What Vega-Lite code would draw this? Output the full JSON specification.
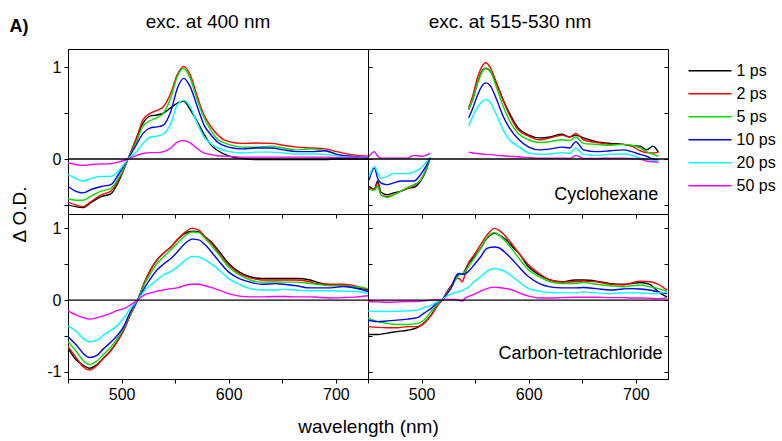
{
"$schema":"https://vega.github.io/schema/vega-lite/v6.json",
"background":"white",
"padding":{"left":9,"top":12,"right":5,"bottom":0},
"title":{"text":"A)","anchor":"start","fontSize":18,"fontWeight":"bold","dy":27,"dx":0},
"columns":2,
"spacing":0,
"bounds":"flush",
"datasets":{
"TL":[
{"w":450,"s":1,"1 ps":-0.50,"2 ps":-0.47,"5 ps":-0.43,"10 ps":-0.30,"20 ps":-0.17,"50 ps":-0.04},
{"w":457,"s":1,"1 ps":-0.52,"2 ps":-0.50,"5 ps":-0.45,"10 ps":-0.35,"20 ps":-0.21,"50 ps":-0.06},
{"w":464,"s":1,"1 ps":-0.53,"2 ps":-0.52,"5 ps":-0.45,"10 ps":-0.37,"20 ps":-0.24,"50 ps":-0.07},
{"w":472,"s":1,"1 ps":-0.47,"2 ps":-0.46,"5 ps":-0.40,"10 ps":-0.33,"20 ps":-0.21,"50 ps":-0.06},
{"w":481,"s":1,"1 ps":-0.41,"2 ps":-0.39,"5 ps":-0.35,"10 ps":-0.30,"20 ps":-0.19,"50 ps":-0.055},
{"w":490,"s":1,"1 ps":-0.38,"2 ps":-0.35,"5 ps":-0.32,"10 ps":-0.28,"20 ps":-0.19,"50 ps":-0.05},
{"w":498,"s":1,"1 ps":-0.225,"2 ps":-0.21,"5 ps":-0.19,"10 ps":-0.15,"20 ps":-0.12,"50 ps":-0.03},
{"w":506,"s":1,"1 ps":0,"2 ps":0,"5 ps":0,"10 ps":0,"20 ps":0,"50 ps":0},
{"w":514,"s":1,"1 ps":0.23,"2 ps":0.23,"5 ps":0.19,"10 ps":0.16,"20 ps":0.08,"50 ps":0.04},
{"w":520,"s":1,"1 ps":0.39,"2 ps":0.43,"5 ps":0.36,"10 ps":0.28,"20 ps":0.17,"50 ps":0.06},
{"w":527,"s":1,"1 ps":0.47,"2 ps":0.50,"5 ps":0.42,"10 ps":0.34,"20 ps":0.24,"50 ps":0.07},
{"w":533,"s":1,"1 ps":0.48,"2 ps":0.53,"5 ps":0.45,"10 ps":0.35,"20 ps":0.25,"50 ps":0.07},
{"w":539,"s":1,"1 ps":0.50,"2 ps":0.57,"5 ps":0.50,"10 ps":0.37,"20 ps":0.27,"50 ps":0.08},
{"w":546,"s":1,"1 ps":0.56,"2 ps":0.72,"5 ps":0.67,"10 ps":0.52,"20 ps":0.39,"50 ps":0.12},
{"w":552,"s":1,"1 ps":0.61,"2 ps":0.92,"5 ps":0.90,"10 ps":0.77,"20 ps":0.59,"50 ps":0.185},
{"w":558,"s":1,"1 ps":0.63,"2 ps":1.01,"5 ps":0.99,"10 ps":0.88,"20 ps":0.64,"50 ps":0.20},
{"w":564,"s":1,"1 ps":0.54,"2 ps":0.92,"5 ps":0.88,"10 ps":0.79,"20 ps":0.57,"50 ps":0.175},
{"w":571,"s":1,"1 ps":0.40,"2 ps":0.67,"5 ps":0.63,"10 ps":0.56,"20 ps":0.38,"50 ps":0.11},
{"w":577,"s":1,"1 ps":0.27,"2 ps":0.48,"5 ps":0.45,"10 ps":0.37,"20 ps":0.24,"50 ps":0.065},
{"w":583,"s":1,"1 ps":0.16,"2 ps":0.36,"5 ps":0.32,"10 ps":0.27,"20 ps":0.17,"50 ps":0.05},
{"w":590,"s":1,"1 ps":0.09,"2 ps":0.26,"5 ps":0.21,"10 ps":0.18,"20 ps":0.12,"50 ps":0.035},
{"w":600,"s":1,"1 ps":0.035,"2 ps":0.19,"5 ps":0.16,"10 ps":0.13,"20 ps":0.08,"50 ps":0.03},
{"w":613,"s":1,"1 ps":0.005,"2 ps":0.17,"5 ps":0.13,"10 ps":0.11,"20 ps":0.065,"50 ps":0.02},
{"w":625,"s":1,"1 ps":-0.005,"2 ps":0.175,"5 ps":0.13,"10 ps":0.12,"20 ps":0.075,"50 ps":0.02},
{"w":640,"s":1,"1 ps":-0.005,"2 ps":0.17,"5 ps":0.14,"10 ps":0.12,"20 ps":0.075,"50 ps":0.02},
{"w":651,"s":1,"1 ps":-0.005,"2 ps":0.15,"5 ps":0.12,"10 ps":0.10,"20 ps":0.065,"50 ps":0.02},
{"w":663,"s":1,"1 ps":-0.005,"2 ps":0.13,"5 ps":0.10,"10 ps":0.08,"20 ps":0.055,"50 ps":0.02},
{"w":678,"s":1,"1 ps":-0.005,"2 ps":0.12,"5 ps":0.11,"10 ps":0.08,"20 ps":0.055,"50 ps":0.02},
{"w":690,"s":1,"1 ps":-0.005,"2 ps":0.11,"5 ps":0.09,"10 ps":0.09,"20 ps":0.05,"50 ps":0.02},
{"w":701,"s":1,"1 ps":0,"2 ps":0.08,"5 ps":0.05,"10 ps":0.05,"20 ps":0.03,"50 ps":0.015},
{"w":713,"s":1,"1 ps":0,"2 ps":0.05,"5 ps":0.03,"10 ps":0.03,"20 ps":0.02,"50 ps":0.015},
{"w":730,"s":1,"1 ps":0,"2 ps":0.03,"5 ps":0.02,"10 ps":0.02,"20 ps":0.02,"50 ps":0.015}
],
"TR":[
{"w":451,"s":1,"1 ps":-0.30,"2 ps":-0.32,"5 ps":-0.33,"10 ps":-0.23,"20 ps":-0.19,"50 ps":0.03},
{"w":456,"s":1,"1 ps":-0.33,"2 ps":-0.33,"5 ps":-0.34,"10 ps":-0.10,"20 ps":-0.08,"50 ps":0.08},
{"w":459,"s":1,"1 ps":-0.24,"2 ps":-0.26,"5 ps":-0.30,"10 ps":-0.21,"20 ps":-0.15,"50 ps":0.03},
{"w":462,"s":1,"1 ps":-0.36,"2 ps":-0.39,"5 ps":-0.39,"10 ps":-0.26,"20 ps":-0.21,"50 ps":0.01},
{"w":468,"s":1,"1 ps":-0.39,"2 ps":-0.41,"5 ps":-0.42,"10 ps":-0.28,"20 ps":-0.19,"50 ps":0.01},
{"w":474,"s":1,"1 ps":-0.37,"2 ps":-0.39,"5 ps":-0.39,"10 ps":-0.26,"20 ps":-0.16,"50 ps":0.01},
{"w":481,"s":1,"1 ps":-0.35,"2 ps":-0.35,"5 ps":-0.35,"10 ps":-0.24,"20 ps":-0.16,"50 ps":0.01},
{"w":487,"s":1,"1 ps":-0.32,"2 ps":-0.32,"5 ps":-0.31,"10 ps":-0.24,"20 ps":-0.16,"50 ps":0.01},
{"w":493,"s":1,"1 ps":-0.31,"2 ps":-0.29,"5 ps":-0.28,"10 ps":-0.24,"20 ps":-0.14,"50 ps":0.04},
{"w":499,"s":1,"1 ps":-0.24,"2 ps":-0.23,"5 ps":-0.23,"10 ps":-0.17,"20 ps":-0.10,"50 ps":0.03},
{"w":504,"s":1,"1 ps":-0.13,"2 ps":-0.12,"5 ps":-0.12,"10 ps":-0.08,"20 ps":-0.04,"50 ps":0.04},
{"w":508,"s":1,"1 ps":0.01,"2 ps":0.01,"5 ps":0.01,"10 ps":0.02,"20 ps":0.02,"50 ps":0.065},
{"w":544,"s":2,"1 ps":0.54,"2 ps":0.56,"5 ps":0.54,"10 ps":0.45,"20 ps":0.36,"50 ps":0.075},
{"w":548,"s":2,"1 ps":0.66,"2 ps":0.70,"5 ps":0.66,"10 ps":0.56,"20 ps":0.47,"50 ps":0.065},
{"w":552,"s":2,"1 ps":0.82,"2 ps":0.88,"5 ps":0.82,"10 ps":0.69,"20 ps":0.56,"50 ps":0.06},
{"w":556,"s":2,"1 ps":0.95,"2 ps":1.00,"5 ps":0.94,"10 ps":0.79,"20 ps":0.62,"50 ps":0.055},
{"w":560,"s":2,"1 ps":0.99,"2 ps":1.05,"5 ps":0.99,"10 ps":0.83,"20 ps":0.65,"50 ps":0.05},
{"w":564,"s":2,"1 ps":0.96,"2 ps":1.00,"5 ps":0.96,"10 ps":0.80,"20 ps":0.62,"50 ps":0.05},
{"w":570,"s":2,"1 ps":0.82,"2 ps":0.83,"5 ps":0.78,"10 ps":0.65,"20 ps":0.48,"50 ps":0.04},
{"w":576,"s":2,"1 ps":0.65,"2 ps":0.64,"5 ps":0.58,"10 ps":0.47,"20 ps":0.32,"50 ps":0.035},
{"w":582,"s":2,"1 ps":0.50,"2 ps":0.48,"5 ps":0.42,"10 ps":0.34,"20 ps":0.21,"50 ps":0.03},
{"w":590,"s":2,"1 ps":0.34,"2 ps":0.32,"5 ps":0.28,"10 ps":0.22,"20 ps":0.14,"50 ps":0.025},
{"w":600,"s":2,"1 ps":0.26,"2 ps":0.25,"5 ps":0.21,"10 ps":0.13,"20 ps":0.065,"50 ps":0.015},
{"w":610,"s":2,"1 ps":0.23,"2 ps":0.21,"5 ps":0.18,"10 ps":0.10,"20 ps":0.05,"50 ps":0.01},
{"w":620,"s":2,"1 ps":0.24,"2 ps":0.23,"5 ps":0.19,"10 ps":0.11,"20 ps":0.055,"50 ps":0.01},
{"w":631,"s":2,"1 ps":0.27,"2 ps":0.26,"5 ps":0.21,"10 ps":0.13,"20 ps":0.07,"50 ps":0.01},
{"w":638,"s":2,"1 ps":0.24,"2 ps":0.24,"5 ps":0.20,"10 ps":0.12,"20 ps":0.06,"50 ps":0.005},
{"w":644,"s":2,"1 ps":0.26,"2 ps":0.28,"5 ps":0.24,"10 ps":0.19,"20 ps":0.12,"50 ps":0.04},
{"w":651,"s":2,"1 ps":0.23,"2 ps":0.21,"5 ps":0.17,"10 ps":0.10,"20 ps":0.05,"50 ps":0.005},
{"w":663,"s":2,"1 ps":0.19,"2 ps":0.18,"5 ps":0.16,"10 ps":0.08,"20 ps":0.04,"50 ps":0.005},
{"w":676,"s":2,"1 ps":0.17,"2 ps":0.16,"5 ps":0.15,"10 ps":0.09,"20 ps":0.05,"50 ps":0.01},
{"w":688,"s":2,"1 ps":0.16,"2 ps":0.16,"5 ps":0.16,"10 ps":0.10,"20 ps":0.055,"50 ps":0.01},
{"w":696,"s":2,"1 ps":0.145,"2 ps":0.14,"5 ps":0.15,"10 ps":0.08,"20 ps":0.04,"50 ps":0.005},
{"w":704,"s":2,"1 ps":0.14,"2 ps":0.09,"5 ps":0.12,"10 ps":0.05,"20 ps":0.01,"50 ps":0},
{"w":710,"s":2,"1 ps":0.10,"2 ps":0.07,"5 ps":0.08,"10 ps":0.03,"20 ps":-0.005,"50 ps":-0.025},
{"w":716,"s":2,"1 ps":0.14,"2 ps":0.065,"5 ps":0.05,"10 ps":0.0,"20 ps":-0.015,"50 ps":-0.03},
{"w":721,"s":2,"1 ps":0.075,"2 ps":0.075,"5 ps":0.03,"10 ps":-0.01,"20 ps":-0.02,"50 ps":-0.035}
],
"BL":[
{"w":450,"s":1,"1 ps":-0.67,"2 ps":-0.65,"5 ps":-0.58,"10 ps":-0.51,"20 ps":-0.36,"50 ps":-0.15},
{"w":458,"s":1,"1 ps":-0.84,"2 ps":-0.81,"5 ps":-0.72,"10 ps":-0.63,"20 ps":-0.44,"50 ps":-0.21},
{"w":464,"s":1,"1 ps":-0.905,"2 ps":-0.93,"5 ps":-0.84,"10 ps":-0.74,"20 ps":-0.53,"50 ps":-0.245},
{"w":470,"s":1,"1 ps":-0.95,"2 ps":-0.975,"5 ps":-0.90,"10 ps":-0.80,"20 ps":-0.58,"50 ps":-0.265},
{"w":477,"s":1,"1 ps":-0.90,"2 ps":-0.91,"5 ps":-0.85,"10 ps":-0.77,"20 ps":-0.56,"50 ps":-0.245},
{"w":483,"s":1,"1 ps":-0.81,"2 ps":-0.81,"5 ps":-0.76,"10 ps":-0.68,"20 ps":-0.49,"50 ps":-0.22},
{"w":489,"s":1,"1 ps":-0.72,"2 ps":-0.72,"5 ps":-0.67,"10 ps":-0.60,"20 ps":-0.43,"50 ps":-0.19},
{"w":495,"s":1,"1 ps":-0.60,"2 ps":-0.60,"5 ps":-0.56,"10 ps":-0.51,"20 ps":-0.37,"50 ps":-0.15},
{"w":502,"s":1,"1 ps":-0.42,"2 ps":-0.42,"5 ps":-0.39,"10 ps":-0.37,"20 ps":-0.25,"50 ps":-0.12},
{"w":508,"s":1,"1 ps":-0.21,"2 ps":-0.21,"5 ps":-0.19,"10 ps":-0.17,"20 ps":-0.12,"50 ps":-0.07},
{"w":515,"s":1,"1 ps":0,"2 ps":0,"5 ps":0,"10 ps":0,"20 ps":0,"50 ps":0},
{"w":521,"s":1,"1 ps":0.23,"2 ps":0.23,"5 ps":0.21,"10 ps":0.16,"20 ps":0.125,"50 ps":0.07},
{"w":527,"s":1,"1 ps":0.42,"2 ps":0.42,"5 ps":0.37,"10 ps":0.30,"20 ps":0.21,"50 ps":0.10},
{"w":533,"s":1,"1 ps":0.56,"2 ps":0.56,"5 ps":0.51,"10 ps":0.42,"20 ps":0.28,"50 ps":0.125},
{"w":539,"s":1,"1 ps":0.65,"2 ps":0.65,"5 ps":0.60,"10 ps":0.50,"20 ps":0.35,"50 ps":0.14},
{"w":546,"s":1,"1 ps":0.74,"2 ps":0.74,"5 ps":0.70,"10 ps":0.58,"20 ps":0.40,"50 ps":0.16},
{"w":552,"s":1,"1 ps":0.84,"2 ps":0.84,"5 ps":0.79,"10 ps":0.67,"20 ps":0.46,"50 ps":0.17},
{"w":558,"s":1,"1 ps":0.92,"2 ps":0.93,"5 ps":0.88,"10 ps":0.77,"20 ps":0.54,"50 ps":0.20},
{"w":566,"s":1,"1 ps":0.96,"2 ps":1.00,"5 ps":0.95,"10 ps":0.85,"20 ps":0.61,"50 ps":0.22},
{"w":572,"s":1,"1 ps":0.95,"2 ps":0.975,"5 ps":0.94,"10 ps":0.84,"20 ps":0.60,"50 ps":0.22},
{"w":578,"s":1,"1 ps":0.88,"2 ps":0.88,"5 ps":0.86,"10 ps":0.77,"20 ps":0.56,"50 ps":0.20},
{"w":585,"s":1,"1 ps":0.79,"2 ps":0.77,"5 ps":0.74,"10 ps":0.65,"20 ps":0.49,"50 ps":0.17},
{"w":591,"s":1,"1 ps":0.68,"2 ps":0.65,"5 ps":0.63,"10 ps":0.54,"20 ps":0.42,"50 ps":0.14},
{"w":600,"s":1,"1 ps":0.51,"2 ps":0.49,"5 ps":0.46,"10 ps":0.39,"20 ps":0.30,"50 ps":0.09},
{"w":610,"s":1,"1 ps":0.39,"2 ps":0.37,"5 ps":0.35,"10 ps":0.30,"20 ps":0.22,"50 ps":0.055},
{"w":620,"s":1,"1 ps":0.325,"2 ps":0.31,"5 ps":0.28,"10 ps":0.25,"20 ps":0.16,"50 ps":0.045},
{"w":631,"s":1,"1 ps":0.30,"2 ps":0.28,"5 ps":0.25,"10 ps":0.22,"20 ps":0.14,"50 ps":0.045},
{"w":643,"s":1,"1 ps":0.30,"2 ps":0.28,"5 ps":0.255,"10 ps":0.23,"20 ps":0.14,"50 ps":0.05},
{"w":651,"s":1,"1 ps":0.30,"2 ps":0.28,"5 ps":0.25,"10 ps":0.22,"20 ps":0.15,"50 ps":0.05},
{"w":663,"s":1,"1 ps":0.30,"2 ps":0.28,"5 ps":0.25,"10 ps":0.20,"20 ps":0.14,"50 ps":0.045},
{"w":676,"s":1,"1 ps":0.28,"2 ps":0.255,"5 ps":0.23,"10 ps":0.17,"20 ps":0.13,"50 ps":0.045},
{"w":682,"s":1,"1 ps":0.25,"2 ps":0.23,"5 ps":0.22,"10 ps":0.17,"20 ps":0.13,"50 ps":0.04},
{"w":695,"s":1,"1 ps":0.21,"2 ps":0.22,"5 ps":0.20,"10 ps":0.17,"20 ps":0.13,"50 ps":0.03},
{"w":707,"s":1,"1 ps":0.20,"2 ps":0.22,"5 ps":0.20,"10 ps":0.19,"20 ps":0.125,"50 ps":0.035},
{"w":720,"s":1,"1 ps":0.17,"2 ps":0.19,"5 ps":0.18,"10 ps":0.16,"20 ps":0.12,"50 ps":0.045},
{"w":730,"s":1,"1 ps":0.14,"2 ps":0.15,"5 ps":0.16,"10 ps":0.12,"20 ps":0.09,"50 ps":0.06}
],
"BR":[
{"w":450,"s":1,"1 ps":-0.48,"2 ps":-0.37,"5 ps":-0.25,"10 ps":-0.28,"20 ps":-0.15,"50 ps":-0.02},
{"w":459,"s":1,"1 ps":-0.48,"2 ps":-0.38,"5 ps":-0.30,"10 ps":-0.30,"20 ps":-0.16,"50 ps":-0.025},
{"w":468,"s":1,"1 ps":-0.46,"2 ps":-0.385,"5 ps":-0.325,"10 ps":-0.29,"20 ps":-0.16,"50 ps":-0.03},
{"w":477,"s":1,"1 ps":-0.44,"2 ps":-0.385,"5 ps":-0.34,"10 ps":-0.28,"20 ps":-0.155,"50 ps":-0.025},
{"w":487,"s":1,"1 ps":-0.42,"2 ps":-0.37,"5 ps":-0.34,"10 ps":-0.265,"20 ps":-0.15,"50 ps":-0.02},
{"w":496,"s":1,"1 ps":-0.385,"2 ps":-0.37,"5 ps":-0.325,"10 ps":-0.245,"20 ps":-0.14,"50 ps":-0.02},
{"w":502,"s":1,"1 ps":-0.325,"2 ps":-0.325,"5 ps":-0.28,"10 ps":-0.185,"20 ps":-0.11,"50 ps":-0.01},
{"w":509,"s":1,"1 ps":-0.21,"2 ps":-0.21,"5 ps":-0.16,"10 ps":-0.115,"20 ps":-0.07,"50 ps":0},
{"w":515,"s":1,"1 ps":-0.07,"2 ps":-0.07,"5 ps":-0.05,"10 ps":-0.03,"20 ps":-0.02,"50 ps":0.005},
{"w":520,"s":1,"1 ps":0.015,"2 ps":0.015,"5 ps":0.015,"10 ps":0.015,"20 ps":0.015,"50 ps":0.01},
{"w":524,"s":1,"1 ps":0.12,"2 ps":0.12,"5 ps":0.10,"10 ps":0.09,"20 ps":0.06,"50 ps":0.01},
{"w":529,"s":1,"1 ps":0.23,"2 ps":0.23,"5 ps":0.21,"10 ps":0.21,"20 ps":0.09,"50 ps":0.01},
{"w":532,"s":1,"1 ps":0.325,"2 ps":0.30,"5 ps":0.29,"10 ps":0.33,"20 ps":0.11,"50 ps":0.01},
{"w":535,"s":1,"1 ps":0.37,"2 ps":0.30,"5 ps":0.35,"10 ps":0.37,"20 ps":0.12,"50 ps":-0.005},
{"w":538,"s":1,"1 ps":0.36,"2 ps":0.255,"5 ps":0.37,"10 ps":0.36,"20 ps":0.13,"50 ps":-0.015},
{"w":540,"s":1,"1 ps":0.40,"2 ps":0.33,"5 ps":0.39,"10 ps":0.36,"20 ps":0.15,"50 ps":0.02},
{"w":543,"s":1,"1 ps":0.49,"2 ps":0.49,"5 ps":0.45,"10 ps":0.39,"20 ps":0.17,"50 ps":0.045},
{"w":549,"s":1,"1 ps":0.60,"2 ps":0.63,"5 ps":0.58,"10 ps":0.49,"20 ps":0.255,"50 ps":0.08},
{"w":555,"s":1,"1 ps":0.72,"2 ps":0.77,"5 ps":0.72,"10 ps":0.60,"20 ps":0.325,"50 ps":0.125},
{"w":561,"s":1,"1 ps":0.86,"2 ps":0.905,"5 ps":0.87,"10 ps":0.72,"20 ps":0.40,"50 ps":0.16},
{"w":568,"s":1,"1 ps":0.93,"2 ps":1.00,"5 ps":0.94,"10 ps":0.74,"20 ps":0.44,"50 ps":0.18},
{"w":572,"s":1,"1 ps":0.91,"2 ps":0.975,"5 ps":0.91,"10 ps":0.73,"20 ps":0.43,"50 ps":0.175},
{"w":579,"s":1,"1 ps":0.84,"2 ps":0.88,"5 ps":0.81,"10 ps":0.65,"20 ps":0.39,"50 ps":0.16},
{"w":585,"s":1,"1 ps":0.74,"2 ps":0.77,"5 ps":0.70,"10 ps":0.56,"20 ps":0.325,"50 ps":0.14},
{"w":591,"s":1,"1 ps":0.65,"2 ps":0.65,"5 ps":0.58,"10 ps":0.46,"20 ps":0.255,"50 ps":0.10},
{"w":600,"s":1,"1 ps":0.46,"2 ps":0.49,"5 ps":0.42,"10 ps":0.325,"20 ps":0.16,"50 ps":0.055},
{"w":610,"s":1,"1 ps":0.35,"2 ps":0.37,"5 ps":0.325,"10 ps":0.23,"20 ps":0.125,"50 ps":0.03},
{"w":620,"s":1,"1 ps":0.28,"2 ps":0.28,"5 ps":0.255,"10 ps":0.185,"20 ps":0.105,"50 ps":0.03},
{"w":631,"s":1,"1 ps":0.255,"2 ps":0.25,"5 ps":0.23,"10 ps":0.17,"20 ps":0.10,"50 ps":0.035},
{"w":643,"s":1,"1 ps":0.28,"2 ps":0.255,"5 ps":0.23,"10 ps":0.17,"20 ps":0.10,"50 ps":0.04},
{"w":651,"s":1,"1 ps":0.28,"2 ps":0.265,"5 ps":0.245,"10 ps":0.175,"20 ps":0.115,"50 ps":0.04},
{"w":663,"s":1,"1 ps":0.265,"2 ps":0.255,"5 ps":0.22,"10 ps":0.16,"20 ps":0.10,"50 ps":0.04},
{"w":676,"s":1,"1 ps":0.23,"2 ps":0.22,"5 ps":0.20,"10 ps":0.14,"20 ps":0.09,"50 ps":0.035},
{"w":688,"s":1,"1 ps":0.22,"2 ps":0.21,"5 ps":0.185,"10 ps":0.155,"20 ps":0.10,"50 ps":0.035},
{"w":696,"s":1,"1 ps":0.23,"2 ps":0.24,"5 ps":0.20,"10 ps":0.16,"20 ps":0.10,"50 ps":0.03},
{"w":704,"s":1,"1 ps":0.245,"2 ps":0.265,"5 ps":0.21,"10 ps":0.155,"20 ps":0.10,"50 ps":0.03},
{"w":713,"s":1,"1 ps":0.22,"2 ps":0.255,"5 ps":0.185,"10 ps":0.14,"20 ps":0.09,"50 ps":0.025},
{"w":721,"s":1,"1 ps":0.115,"2 ps":0.22,"5 ps":0.16,"10 ps":0.115,"20 ps":0.10,"50 ps":0.02},
{"w":729,"s":1,"1 ps":0.045,"2 ps":0.14,"5 ps":0.125,"10 ps":0.09,"20 ps":0.115,"50 ps":0.03}
]
},
"concat":[
{
"width":300,"height":165,
"title":{"text":"exc. at 400 nm","frame":"group","dx":-10,"offset":17},
"data":{"name":"TL"},
"layer":[
{"transform":[{"fold":["1 ps","2 ps","5 ps","10 ps","20 ps","50 ps"],"as":["t","v"]}],
"mark":{"type":"line","strokeWidth":1.4,"interpolate":"monotone","clip":true},
"encoding":{
"x":{"field":"w","type":"quantitative","scale":{"domain":[450,730],"nice":false},"axis":{"values":[500,550,600,650,700],"labels":false,"title":null}},
"y":{"field":"v","type":"quantitative","scale":{"domain":[-0.6,1.2],"nice":false,"zero":false},"axis":{"values":[-0.5,0,0.5,1],"labelExpr":"datum.value % 1 == 0 ? toString(datum.value) : ''","title":"Δ O.D.","titleX":-49,"titleY":165,"titleAngle":270,"titleBaseline":"middle","titleAlign":"center"}},
"color":{"field":"t","type":"nominal","scale":{"domain":["1 ps","2 ps","5 ps","10 ps","20 ps","50 ps"],"range":["#000000","#ff0000","#00dd00","#0000ff","#00ffff","#ff00ff"]},"legend":{"title":null,"orient":"right","symbolType":"stroke","symbolSize":1849,"symbolStrokeWidth":1.5,"labelFontSize":16,"labelColor":"black","labelOffset":4,"clipHeight":22.6,"rowPadding":0,"offset":6.5,"padding":10.5,"labelExpr":"length(datum.label) < 5 ? '\u2007' + datum.label : datum.label"}},
"detail":{"field":"s","type":"nominal"}
}},
{"data":{"values":[{}]},"mark":{"type":"rule","color":"black","strokeWidth":1.3},"encoding":{"y":{"datum":0}}}
]
},
{
"width":300,"height":165,
"title":{"text":"exc. at 515-530 nm","frame":"group","dx":-8,"offset":17},
"data":{"name":"TR"},
"resolve":{"axis":{"y":"independent"}},
"layer":[
{"transform":[{"fold":["1 ps","2 ps","5 ps","10 ps","20 ps","50 ps"],"as":["t","v"]}],
"mark":{"type":"line","strokeWidth":1.4,"interpolate":"monotone","clip":true},
"encoding":{
"x":{"field":"w","type":"quantitative","scale":{"domain":[450,730],"nice":false},"axis":{"values":[450,500,550,600,650,700],"labels":false,"title":null}},
"y":{"field":"v","type":"quantitative","scale":{"domain":[-0.6,1.2],"nice":false,"zero":false},"axis":{"values":[-0.5,0,0.5,1],"labels":false,"title":null,"tickSize":-4}},
"color":{"field":"t","type":"nominal","scale":{"domain":["1 ps","2 ps","5 ps","10 ps","20 ps","50 ps"],"range":["#000000","#ff0000","#00dd00","#0000ff","#00ffff","#ff00ff"]},"legend":{"title":null,"orient":"right","symbolType":"stroke","symbolSize":1849,"symbolStrokeWidth":1.5,"labelFontSize":16,"labelColor":"black","labelOffset":4,"clipHeight":22.6,"rowPadding":0,"offset":6.5,"padding":10.5,"labelExpr":"length(datum.label) < 5 ? '\u2007' + datum.label : datum.label"}},
"detail":{"field":"s","type":"nominal"}
}},
{"data":{"values":[{}]},"mark":{"type":"rule","color":"black","strokeWidth":1.3},"encoding":{"y":{"datum":0,"axis":{"orient":"right","values":[-0.5,0,0.5,1],"labels":false,"title":null,"tickSize":-4}}}},
{"data":{"values":[{}]},"mark":{"type":"text","align":"right","baseline":"alphabetic","fontSize":18,"color":"black"},"encoding":{"x":{"datum":721},"y":{"datum":-0.45,"axis":null},"text":{"value":"Cyclohexane"}}}
]
},
{
"width":300,"height":165,
"data":{"name":"BL"},
"layer":[
{"transform":[{"fold":["1 ps","2 ps","5 ps","10 ps","20 ps","50 ps"],"as":["t","v"]}],
"mark":{"type":"line","strokeWidth":1.4,"interpolate":"monotone","clip":true},
"encoding":{
"x":{"field":"w","type":"quantitative","scale":{"domain":[450,730],"nice":false},"axis":{"values":[450,500,550,600,650,700],"labelExpr":"datum.value % 100 == 0 ? toString(datum.value) : ''","title":"wavelength (nm)","titleX":300,"titleY":53,"titleBaseline":"alphabetic","titleAlign":"center"}},
"y":{"field":"v","type":"quantitative","scale":{"domain":[-1.1,1.2],"nice":false,"zero":false},"axis":{"values":[-1,-0.5,0,0.5,1],"labelExpr":"datum.value % 1 == 0 ? toString(datum.value) : ''","title":null}},
"color":{"field":"t","type":"nominal","scale":{"domain":["1 ps","2 ps","5 ps","10 ps","20 ps","50 ps"],"range":["#000000","#ff0000","#00dd00","#0000ff","#00ffff","#ff00ff"]},"legend":{"title":null,"orient":"right","symbolType":"stroke","symbolSize":1849,"symbolStrokeWidth":1.5,"labelFontSize":16,"labelColor":"black","labelOffset":4,"clipHeight":22.6,"rowPadding":0,"offset":6.5,"padding":10.5,"labelExpr":"length(datum.label) < 5 ? '\u2007' + datum.label : datum.label"}},
"detail":{"field":"s","type":"nominal"}
}},
{"data":{"values":[{}]},"mark":{"type":"rule","color":"black","strokeWidth":1.3},"encoding":{"y":{"datum":0}}}
]
},
{
"width":300,"height":165,
"data":{"name":"BR"},
"resolve":{"axis":{"y":"independent"}},
"layer":[
{"transform":[{"fold":["1 ps","2 ps","5 ps","10 ps","20 ps","50 ps"],"as":["t","v"]}],
"mark":{"type":"line","strokeWidth":1.4,"interpolate":"monotone","clip":true},
"encoding":{
"x":{"field":"w","type":"quantitative","scale":{"domain":[450,730],"nice":false},"axis":{"values":[450,500,550,600,650,700],"labelExpr":"datum.value % 100 == 0 ? toString(datum.value) : ''","title":null}},
"y":{"field":"v","type":"quantitative","scale":{"domain":[-1.1,1.2],"nice":false,"zero":false},"axis":{"values":[-1,-0.5,0,0.5,1],"labels":false,"title":null,"tickSize":-4}},
"color":{"field":"t","type":"nominal","scale":{"domain":["1 ps","2 ps","5 ps","10 ps","20 ps","50 ps"],"range":["#000000","#ff0000","#00dd00","#0000ff","#00ffff","#ff00ff"]},"legend":{"title":null,"orient":"right","symbolType":"stroke","symbolSize":1849,"symbolStrokeWidth":1.5,"labelFontSize":16,"labelColor":"black","labelOffset":4,"clipHeight":22.6,"rowPadding":0,"offset":6.5,"padding":10.5,"labelExpr":"length(datum.label) < 5 ? '\u2007' + datum.label : datum.label"}},
"detail":{"field":"s","type":"nominal"}
}},
{"data":{"values":[{}]},"mark":{"type":"rule","color":"black","strokeWidth":1.3},"encoding":{"y":{"datum":0,"axis":{"orient":"right","values":[-1,-0.5,0,0.5,1],"labels":false,"title":null,"tickSize":-4}}}},
{"data":{"values":[{}]},"mark":{"type":"text","align":"right","baseline":"alphabetic","fontSize":18,"color":"black"},"encoding":{"x":{"datum":725},"y":{"datum":-0.82,"axis":null},"text":{"value":"Carbon-tetrachloride"}}}
]
}
],
"config":{
"font":"Liberation Sans",
"view":{"stroke":"black","strokeWidth":1},
"axis":{"grid":false,"domainColor":"black","tickColor":"black","labelColor":"black","titleColor":"black","labelFont":"Liberation Sans","titleFont":"Liberation Sans","labelFontSize":16,"titleFontSize":19,"titleFontWeight":"normal","tickSize":4,"labelPadding":3},
"title":{"font":"Liberation Sans","fontSize":19,"fontWeight":"normal","color":"black"},
"legend":{"labelFont":"Liberation Sans"},
"text":{"font":"Liberation Sans"}
}
}
